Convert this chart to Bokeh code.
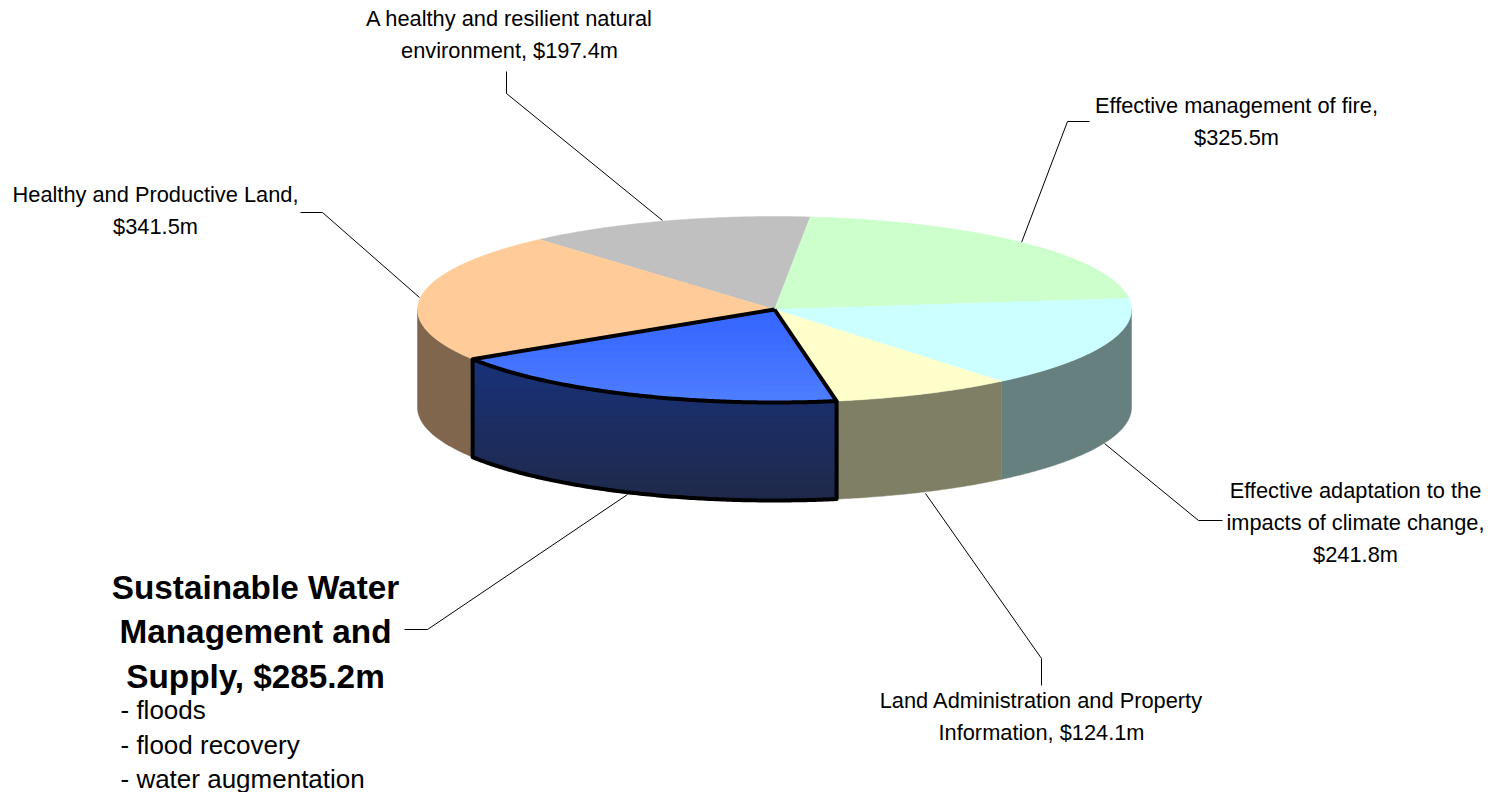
import math
from bokeh.plotting import figure
from bokeh.core.properties import value
from bokeh.embed import file_html
from bokeh.resources import INLINE

# ---- data ----
categories = ["A healthy and resilient natural environment",
              "Effective management of fire",
              "Effective adaptation to the impacts of climate change",
              "Land Administration and Property Information",
              "Sustainable Water Management and Supply",
              "Healthy and Productive Land"]
values = [197.4, 325.5, 241.8, 124.1, 285.2, 341.5]

# ---- style ----
top_colors = ["#C0C0C0", "#CCFFCC", "#CCFFFF", "#FFFFCC", None, "#FFCC99"]
side_colors = ["#606060", "#667F66", "#667F7F", "#7F7F66", None, "#7F664C"]
HILITE = 4
top_grad = ((0x33, 0x64, 0xFF), (0x4E, 0x7E, 0xFF))
side_grad = ((0x18, 0x31, 0x7A), (0x1F, 0x29, 0x49))

# ---- layout (pixel coordinates of the page image) ----
CX, CY, RX, RY, DEPTH = 774.0, 309.0, 357.0, 93.0, 98.0
FIRST_ANGLE = -41.15  # degrees clockwise from the top of the ellipse

labels = [
    (["A healthy and resilient natural", "environment, $197.4m"], 509, [18, 50]),
    (["Effective management of fire,", "$325.5m"], 1236, [105, 137]),
    (["Effective adaptation to the", "impacts of climate change,", "$241.8m"], 1355, [490, 522, 554]),
    (["Land Administration and Property", "Information, $124.1m"], 1041, [700, 732]),
    (["Healthy and Productive Land,", "$341.5m"], 155, [194, 226]),
]
leaders = [
    [(506, 71), (506, 93), (662, 220)],
    [(1089, 121), (1067, 121), (1021, 242)],
    [(1104, 443), (1198, 520), (1222, 520)],
    [(925, 493), (1041, 658), (1041, 685)],
    [(404, 629), (427, 629), (627, 494)],
    [(300, 212), (322, 212), (419, 297)],
]
heading = (["Sustainable Water", "Management and", "Supply, $285.2m"], 255, [587, 631, 676])
bullets = (["- floods", "- flood recovery", "- water augmentation"], 120, [709, 744, 778])


def pt(t_deg, dy=0.0):
    t = math.radians(t_deg)
    return (CX + RX * math.sin(t), CY - RY * math.cos(t) + dy)


def arc(a0, a1, dy=0.0):
    n = max(2, int(abs(a1 - a0) * 2) + 1)
    return [pt(a0 + (a1 - a0) * i / (n - 1), dy) for i in range(n)]


def clip_y(poly, y0, y1):
    def clip(points, inside, cut):
        out = []
        for i, c in enumerate(points):
            d = points[(i + 1) % len(points)]
            if inside(c):
                out.append(c)
            if inside(c) != inside(d):
                out.append(cut(c, d))
        return out
    def cutter(yv):
        return lambda a, b: (a[0] + (b[0] - a[0]) * (yv - a[1]) / (b[1] - a[1]), yv)
    res = clip(poly, lambda q: q[1] >= y0, cutter(y0))
    if res:
        res = clip(res, lambda q: q[1] <= y1, cutter(y1))
    return res


p = figure(width=1494, height=792, x_range=(0, 1494), y_range=(792, 0),
           x_axis_type=None, y_axis_type=None, toolbar_location=None,
           output_backend="svg", min_border=0, outline_line_color=None)
p.grid.visible = False


def hexc(c):
    return "#%02X%02X%02X" % tuple(int(round(v)) for v in c)


def grad_fill(poly, grad, y0, y1, n=40):
    for i in range(n):
        a = y0 + (y1 - y0) * i / n
        b = y0 + (y1 - y0) * (i + 1) / n
        part = clip_y(poly, a, b)
        if len(part) < 3:
            continue
        f = (i + 0.5) / n
        col = hexc([grad[0][k] + (grad[1][k] - grad[0][k]) * f for k in range(3)])
        p.patch([q[0] for q in part], [q[1] for q in part], fill_color=col,
                line_color=col, line_width=1.2)


for line in leaders:
    p.line([q[0] for q in line], [q[1] for q in line], line_color="#000000", line_width=1)

# angles from the values
total = sum(values)
spans = []
a = FIRST_ANGLE
for v in values:
    b = a + v / total * 360.0
    spans.append((a, b))
    a = b

# side faces (front half only)
for i, (a0, b0) in enumerate(spans):
    s0, s1 = max(a0, 90), min(b0, 270)
    if s1 <= s0:
        continue
    poly = arc(s0, s1) + arc(s1, s0, DEPTH)
    if i == HILITE:
        grad_fill(poly, side_grad, min(q[1] for q in poly), max(q[1] for q in poly))
    else:
        p.patch([q[0] for q in poly], [q[1] for q in poly], fill_color=side_colors[i],
                line_color=side_colors[i], line_width=0.5)

# top faces
for i, (a0, b0) in enumerate(spans):
    if i == HILITE:
        continue
    poly = [(CX, CY)] + arc(a0, b0)
    p.patch([q[0] for q in poly], [q[1] for q in poly], fill_color=top_colors[i],
            line_color=top_colors[i], line_width=0.5)

# highlighted slice
a0, b0 = spans[HILITE]
poly = [(CX, CY)] + arc(a0, b0)
grad_fill(poly, top_grad, CY, max(q[1] for q in poly))
outline_top = poly + [poly[0]]
outline_side = [pt(b0)] + arc(b0, a0, DEPTH) + [pt(a0)]
for o in (outline_top, outline_side):
    p.line([q[0] for q in o], [q[1] for q in o], line_color="#000000", line_width=4,
           line_join="round")

FONT = value("Liberation Sans")
for lines, x, ys in labels:
    p.text([x] * len(lines), ys, text=lines, text_font=FONT, text_font_size=value("21.8px"),
           text_align="center", text_baseline="middle", text_color="#000000")
p.text([heading[1]] * 3, heading[2], text=heading[0], text_font=FONT, text_font_style="bold",
       text_font_size=value("33.3px"), text_align="center", text_baseline="middle", text_color="#000000")
p.text([bullets[1]] * 3, bullets[2], text=bullets[0], text_font=FONT, text_font_size=value("26px"),
       text_align="left", text_baseline="middle", text_color="#000000")

open("out.html", "w").write(file_html(p, INLINE))
